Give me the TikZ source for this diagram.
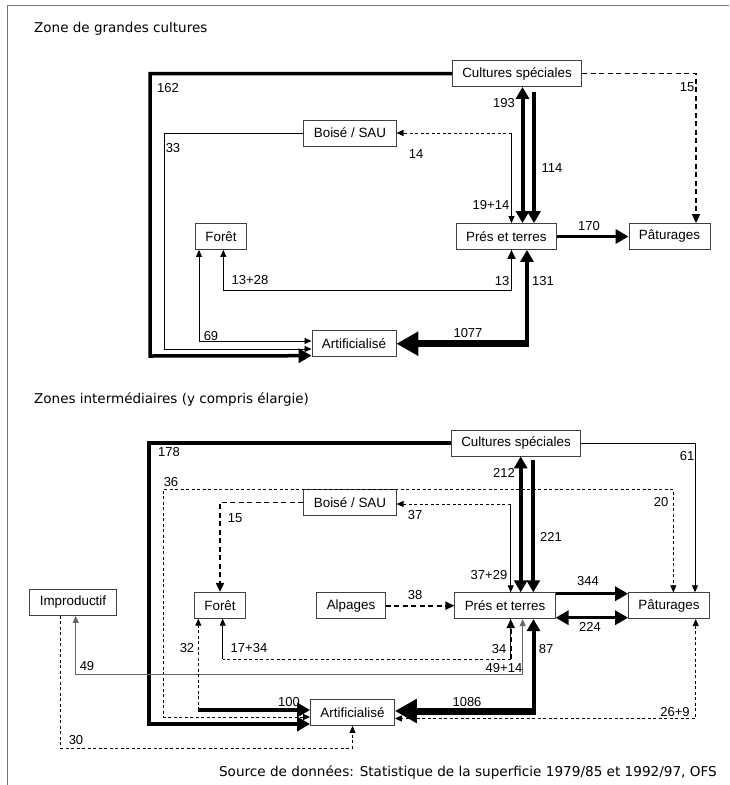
\documentclass[tikz,border=0pt]{standalone}
\usepackage{fontspec}
\setmainfont{Liberation Sans}
\newfontfamily\titrefont{DejaVu Sans}
\usetikzlibrary{arrows.meta}

\begin{document}
\begin{tikzpicture}[x=1pt,y=-1pt,
    boite/.style={draw=black!75,line width=0.8pt,fill=white,minimum height=26pt,
      inner xsep=10pt,inner ysep=0pt,font=\fontsize{13.4}{15}\selectfont},
    etiq/.style={inner sep=0pt,font=\fontsize{13}{15}\selectfont},
    titre/.style={inner sep=0pt,anchor=base west,font=\titrefont\fontsize{13.5}{16}\selectfont},
    cadre/.style={draw=black!55,line width=1pt},
    fin/.style={line width=0.8pt,>={Triangle[length=7pt,width=6pt]}},
    gris/.style={draw=black!60,line width=1pt,>={Triangle[length=7pt,width=6pt]}},
    tiret/.style={line width=0.8pt,dash pattern=on 3pt off 2.5pt,>={Triangle[length=7pt,width=6pt]}},
    tiretfort/.style={line width=1.8pt,dash pattern=on 5pt off 3.5pt,>={Triangle[length=9pt,width=8pt]}},
    epais/.style={line width=3.5pt,>={Triangle[length=13pt,width=14pt]}},
    epaisv/.style={line width=4pt,>={Triangle[length=12pt,width=13pt]}},
    enorme/.style={line width=7pt,>={Triangle[length=22pt,width=23pt]}}
  ]

  \useasboundingbox (0,0) rectangle (729,785);

  % Cadre
  \draw[cadre] (7,785) -- (7,5) -- (729,5);

  % Zone de grandes cultures
  \node[titre] (titreA) at (34,32) {Zone de grandes cultures};

  \node[boite] (csA) at (517,73.5) {Cultures spéciales};
  \node[boite] (bsA) at (350,133) {Boisé / SAU};
  \node[boite] (foA) at (221,236.5) {Forêt};
  \node[boite] (ptA) at (506.3,236.5) {Prés et terres};
  \node[boite] (paA) at (669.5,236.5) {Pâturages};
  \node[boite] (arA) at (354,343.7) {Artificialisé};

  \coordinate (bA) at (511.5,133);
  \coordinate (dA) at (511.5,290);
  \coordinate (kA) at (527,343.7);

  \draw[epais,->] (csA.west) -| (150,356) -- ([yshift=-12pt]arA.west);
  \draw[fin,->] (bsA.west) -| (164.5,349) -- ([yshift=-5.3pt]arA.west);
  \draw[fin,<->] ([xshift=-22pt]foA.south) |- ([yshift=2.7pt]arA.west);
  \draw[fin,->] (dA) -| ([xshift=2.3pt]foA.south);
  \draw[fin] (dA) -- (dA |- ptA.south);
  \draw[tiretfort,->] (dA) -- (dA |- ptA.south);
  \draw[epaisv,->] ([yshift=-3pt]kA) -- (kA |- ptA.south);
  \draw[enorme,->] ([xshift=2pt]kA) -- (arA.east);
  \draw[epaisv,<->] ([xshift=5.5pt]csA.south) -- ([xshift=16.2pt]ptA.north);
  \draw[epaisv,->] ([xshift=17pt,yshift=-5pt]csA.south) -- ([xshift=27.7pt]ptA.north);
  \draw[fin,->] (bA) -- (bA |- ptA.north);
  \draw[tiret,->] (bA) -- (bsA.east);
  \draw[tiretfort,->] (csA.east) -| ([xshift=26.5pt]paA.north);
  \draw[epais,->] (ptA.east) -- (paA.west);

  \node[etiq] (n162) at (168,88) {162};
  \node[etiq] (n33) at (173,148) {33};
  \node[etiq] (n14) at (416,154) {14};
  \node[etiq] (n193) at (504,103) {193};
  \node[etiq] (n114) at (552,168) {114};
  \node[etiq] (n1914) at (491,205) {19+14};
  \node[etiq] (n15a) at (687,87) {15};
  \node[etiq] (n170) at (589,226) {170};
  \node[etiq] (n1328) at (250,280) {13+28};
  \node[etiq] (n69) at (211,336) {69};
  \node[etiq] (n13) at (502,281) {13};
  \node[etiq] (n131) at (543,281) {131};
  \node[etiq] (n1077) at (468,333) {1077};

  % Zones intermediaires
  \node[titre] (titreB) at (34,403) {Zones intermédiaires (y compris élargie)};

  \node[boite] (csB) at (516,443) {Cultures spéciales};
  \node[boite] (bsB) at (350,502.5) {Boisé / SAU};
  \node[boite] (alB) at (351,605.7) {Alpages};
  \node[boite] (ptB) at (505,605.7) {Prés et terres};
  \node[boite] (paB) at (669,605.7) {Pâturages};
  \node[boite] (foB) at (220,605.3) {Forêt};
  \node[boite] (imB) at (73,602.5) {Improductif};
  \node[boite] (arB) at (352.5,712.5) {Artificialisé};

  \coordinate (bB) at (510.7,504);
  \coordinate (dB) at (510.7,659);
  \coordinate (eB) at (222.7,659);
  \coordinate (gB) at (198.3,710);
  \coordinate (kB) at (533.5,711);

  \draw[epais,->] (csB.west) -| (149,724) -- ([yshift=-11.5pt]arB.west);
  \draw[tiret,<->] ([yshift=-4.5pt]arB.west) -| (163.3,489.3) -| ([xshift=4.3pt]paB.north);
  \draw[tiretfort,->] (bsB.west) -| (foB.north);
  \draw[fin,->] (csB.east) -| ([xshift=26pt]paB.north);
  \draw[epaisv,<->] ([xshift=4.7pt]csB.south) -- ([xshift=15.7pt]ptB.north);
  \draw[epaisv,->] ([xshift=17.3pt,yshift=-4pt]csB.south) -- ([xshift=28.3pt]ptB.north);
  \draw[fin,->] (bB) -- (bB |- ptB.north);
  \draw[tiret,->] (bB) -- (bB -| bsB.east);
  \draw[tiretfort,->] (alB.east) -- (ptB.west);
  \draw[epais,->] ([yshift=12pt]ptB.east) -- ([yshift=12pt]paB.west);
  \draw[epais,<->] ([yshift=-12pt]ptB.east) -- ([yshift=-12pt]paB.west);
  \draw[tiret] (dB) -- (eB);
  \draw[fin,->] (eB) -- (eB |- foB.south);
  \draw[fin] (dB) -- (dB |- ptB.south);
  \draw[tiretfort,->] (dB) -- (dB |- ptB.south);
  \draw[gris,<->] ([xshift=17.7pt]ptB.south) -- ++(0,55) -| ([xshift=2.7pt]imB.south);
  \draw[epaisv,->] ([yshift=-3.5pt]kB) -- (kB |- ptB.south);
  \draw[enorme,->] ([xshift=2pt]kB) -- (kB -| arB.east);
  \draw[tiret,<->] ([xshift=26.7pt]paB.south) |- ([yshift=-6pt]arB.east);
  \draw[tiret,->] (gB) -- (gB |- foB.south);
  \draw[epais,->] (gB) -- (gB -| arB.west);
  \draw[tiret,->] ([xshift=-13pt]imB.south) -- ++(0,132) -| (arB.south);

  \node[etiq] (n178) at (169,452) {178};
  \node[etiq] (n36) at (171,482) {36};
  \node[etiq] (n15b) at (235,518) {15};
  \node[etiq] (n37) at (415,515) {37};
  \node[etiq] (n61) at (687,456) {61};
  \node[etiq] (n212) at (504,473) {212};
  \node[etiq] (n221) at (551,537) {221};
  \node[etiq] (n20) at (661,502) {20};
  \node[etiq] (n3729) at (489,575) {37+29};
  \node[etiq] (n38) at (415,595) {38};
  \node[etiq] (n344) at (588,581) {344};
  \node[etiq] (n224) at (590,627) {224};
  \node[etiq] (n1734) at (249,648) {17+34};
  \node[etiq] (n32) at (187,648) {32};
  \node[etiq] (n34) at (499,649) {34};
  \node[etiq] (n87) at (546,649) {87};
  \node[etiq] (n49) at (87,666) {49};
  \node[etiq] (n4914) at (504,668) {49+14};
  \node[etiq] (n100) at (289,702) {100};
  \node[etiq] (n1086) at (467,702) {1086};
  \node[etiq] (n269) at (675,712) {26+9};
  \node[etiq] (n30) at (76,740) {30};

  % Source
  \node[titre,anchor=base east,font=\titrefont\fontsize{13.6}{16}\selectfont] (source) at (717,776)
    {Source de données: Statistique de la superficie 1979/85 et 1992/97, OFS};

\end{tikzpicture}
\end{document}
